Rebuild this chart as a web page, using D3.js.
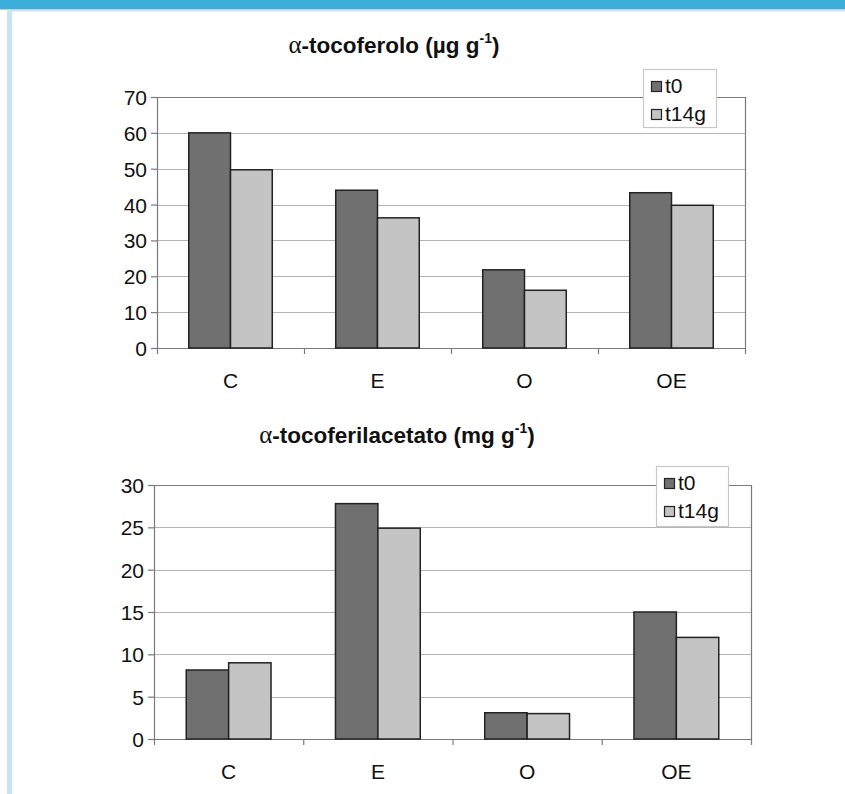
<!DOCTYPE html>
<html><head><meta charset="utf-8">
<script src="https://cdn.jsdelivr.net/npm/d3@7"></script>
<style>body{margin:0;background:#fff}svg{display:block}</style>
</head><body>
<script>
const categories = ["C","E","O","OE"];
const seriesNames = ["t0","t14g"];
const toco_t0 = [60, 44, 21.8, 43.3];
const toco_t14g = [49.7, 36.3, 16.1, 39.8];
const acet_t0 = [8.15, 27.8, 3.1, 15.0];
const acet_t14g = [9.0, 24.9, 3.0, 12.0];
const ticks1 = [0,10,20,30,40,50,60,70];
const ticks2 = [0,5,10,15,20,25,30];

const W = 845, H = 794;
const svg = d3.select("body").append("svg").attr("width", W).attr("height", H);
svg.append("rect").attr("x",0).attr("y",0).attr("width",W).attr("height",H).attr("fill","#fff");
svg.append("rect").attr("x",0).attr("y",0).attr("width",W).attr("height",9.5).attr("fill","#3aaed8");
svg.append("rect").attr("x",7).attr("y",9.5).attr("width",W-7).attr("height",2).attr("fill","#c6e4f3");
svg.append("rect").attr("x",7).attr("y",9.5).attr("width",5).attr("height",H).attr("fill","#c6e4f3");

const colors = ["#707070","#c4c4c4"];
const font = "'Liberation Sans', Arial, sans-serif";
const fs = 21;

function chart(cfg){
  const g = svg.append("g");
  const x = d3.scaleBand().domain(categories).range([cfg.left, cfg.right]);
  const y = d3.scaleLinear().domain([0, cfg.max]).range([cfg.bottom, cfg.top]);
  const xs = d3.scaleBand().domain(seriesNames).range([0, x.bandwidth()]).paddingInner(0).paddingOuter(0.76);
  g.append("g").selectAll("line").data(cfg.ticks.slice(1)).join("line")
    .attr("x1", cfg.left).attr("x2", cfg.right)
    .attr("y1", d=>Math.round(y(d))+0.5).attr("y2", d=>Math.round(y(d))+0.5)
    .attr("stroke", d=> d===cfg.max ? "#7a7a7a" : "#b4b4b4").attr("stroke-width",1.2);
  g.append("line").attr("x1",cfg.right+0.5).attr("x2",cfg.right+0.5).attr("y1",cfg.top).attr("y2",cfg.bottom)
    .attr("stroke","#7a7a7a").attr("stroke-width",1.2);
  const ya = d3.axisLeft(y).tickValues(cfg.ticks).tickSize(6).tickPadding(4).tickFormat(d3.format("d"));
  const yg = g.append("g").attr("transform",`translate(${cfg.left},0)`).call(ya);
  yg.select(".domain").attr("stroke","#7a7a7a").attr("stroke-width",1.2);
  yg.selectAll(".tick line").attr("stroke","#7a7a7a").attr("stroke-width",1.2);
  yg.selectAll("text").attr("font-family",font).attr("font-size",fs).attr("fill","#111").attr("dy","0.36em");
  const xa = d3.axisBottom(x).tickSize(0).tickPadding(25);
  const xg = g.append("g").attr("transform",`translate(0,${cfg.bottom})`).call(xa);
  xg.select(".domain").attr("stroke","#7a7a7a").attr("stroke-width",1.2);
  xg.selectAll("text").attr("font-family",font).attr("font-size",fs).attr("fill","#111");
  const bounds = categories.map(c=>x(c)).concat([cfg.right]);
  g.append("g").selectAll("line").data(bounds).join("line")
    .attr("x1",d=>d+0.5).attr("x2",d=>d+0.5).attr("y1",cfg.bottom).attr("y2",cfg.bottom+6)
    .attr("stroke","#7a7a7a").attr("stroke-width",1.2);
  const data = [];
  categories.forEach((c,i)=>{ cfg.series.forEach((s,j)=>data.push({c, s:seriesNames[j], v:s[i], j})); });
  g.append("g").selectAll("rect").data(data).join("rect")
    .attr("x", d=>x(d.c)+xs(d.s)).attr("width", xs.bandwidth())
    .attr("y", d=>y(d.v)).attr("height", d=>cfg.bottom-y(d.v))
    .attr("fill", d=>colors[d.j]).attr("stroke","#222").attr("stroke-width",1.5);
  const t = g.append("text").attr("x",cfg.titleX).attr("y",cfg.titleY).attr("text-anchor","middle")
    .attr("font-family",font).attr("font-size",22.5).attr("font-weight","bold").attr("fill","#111");
  t.append("tspan").attr("font-weight","normal").attr("font-family","'Liberation Serif', serif").attr("font-size",25).text("α");
  t.append("tspan").text(cfg.title);
  t.append("tspan").attr("font-size",14).attr("dy",-10).text("-1");
  t.append("tspan").attr("dy",10).text(")");
  const lg = g.append("g").attr("transform",`translate(${cfg.legX},${cfg.legY})`);
  lg.append("rect").attr("x",0.5).attr("y",0.5).attr("width",cfg.legW).attr("height",cfg.legH)
    .attr("fill","#fff").attr("stroke","#c8c8c8").attr("stroke-width",1.2);
  seriesNames.forEach((n,i)=>{
    lg.append("rect").attr("x",8.5).attr("y",12.5+i*28).attr("width",10).attr("height",10)
      .attr("fill",colors[i]).attr("stroke","#222").attr("stroke-width",1.2);
    lg.append("text").attr("x",22).attr("y",24+i*28).attr("font-family",font).attr("font-size",fs)
      .attr("fill","#111").text(n);
  });
}

chart({left:157, right:745, top:97, bottom:348, max:70, ticks:ticks1,
  series:[toco_t0, toco_t14g], title:"-tocoferolo (µg g", titleX:394, titleY:53,
  legX:643, legY:69, legW:73, legH:58});
chart({left:154, right:751, top:485, bottom:739, max:30, ticks:ticks2,
  series:[acet_t0, acet_t14g], title:"-tocoferilacetato (mg g", titleX:397, titleY:443,
  legX:656, legY:466, legW:72, legH:60});
</script>
</body></html>
